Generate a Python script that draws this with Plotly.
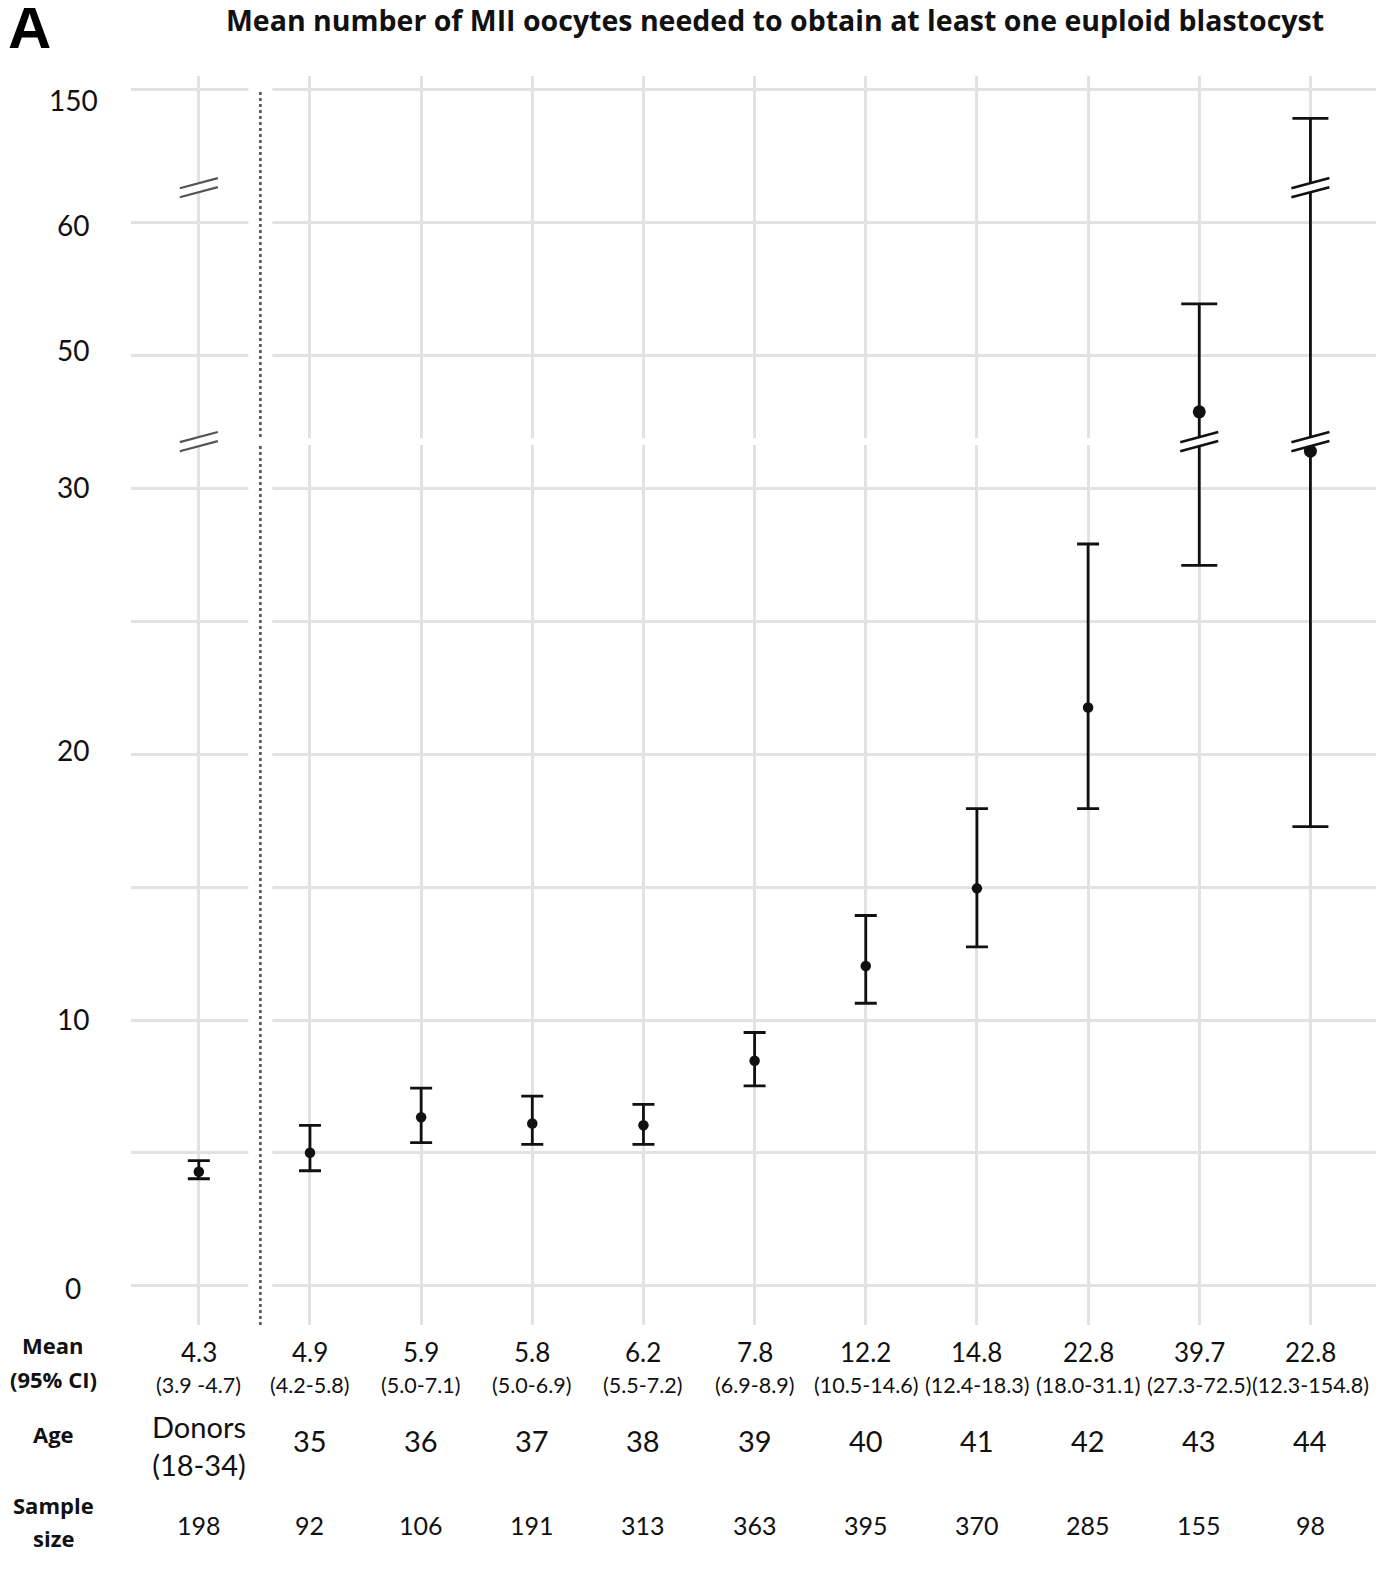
import plotly.graph_objects as go

# ---------------- data ----------------
age_labels = ["Donors<br>(18-34)", "35", "36", "37", "38", "39", "40", "41", "42", "43", "44"]
mean_text = ["4.3", "4.9", "5.9", "5.8", "6.2", "7.8", "12.2", "14.8", "22.8", "39.7", "22.8"]
ci_text = ["(3.9 -4.7)", "(4.2-5.8)", "(5.0-7.1)", "(5.0-6.9)", "(5.5-7.2)", "(6.9-8.9)",
           "(10.5-14.6)", "(12.4-18.3)", "(18.0-31.1)", "(27.3-72.5)", "(12.3-154.8)"]
sample_size = [198, 92, 106, 191, 313, 363, 395, 370, 285, 155, 98]

# positions on the (broken) y scale as drawn in the picture
mean_pos = [4.29, 5.01, 6.34, 6.11, 6.04, 8.47, 12.03, 14.95, 21.75, 32.87, 31.39]
low_pos = [4.03, 4.33, 5.39, 5.32, 5.32, 7.52, 10.63, 12.75, 17.95, 27.10, 17.27]
high_pos = [4.71, 6.04, 7.44, 7.14, 6.83, 9.53, 13.93, 17.95, 27.90, 36.93, 43.91]

ytick_pos = [0, 5, 10, 15, 20, 25, 30, 35, 40, 45]
ytick_text = ["0", "", "10", "", "20", "", "30", "50", "60", "150"]
break_pos = [31.75, 41.3]
separator_x = 0.554

# styling: vertical nudge (px, downward) of each y label as placed in the original
ytick_label_dy = [2, 0, -1, 0, -4, 0, -1, -5, 3, 11]
row_labels = [("Mean", 1345), ("(95% CI)", 1379), ("Age", 1434), ("Sample", 1505), ("size", 1538)]

# ---------------- geometry ----------------
OFF = 8                      # page body margin of the html page
W, H = 1400 - OFF, 1584 - OFF
L, R, T, B = 131 - OFF, 24, 76 - OFF, 259
plot_h = H - T - B
plot_w = W - L - R
XR = [-0.61, 10.59]
YR = [-1.47, 45.5]
FONT = "Lato"
BOLD = "Open Sans"
INK = "#111111"
GRID = "#e2e2e2"


def py(ypx):
    return (H - B - (ypx - OFF)) / plot_h


def px(xpx):
    return (xpx - OFF - L) / plot_w


x = list(range(len(age_labels)))
fig = go.Figure()

groups = [(list(range(0, 9)), 11, 10.5), ([9, 10], 18, 13)]
for idx, capw, msize in groups:
    fig.add_trace(go.Scatter(
        x=[x[i] for i in idx],
        y=[mean_pos[i] for i in idx],
        mode="markers",
        marker=dict(color=INK, size=msize),
        error_y=dict(type="data", symmetric=False,
                     array=[high_pos[i] - mean_pos[i] for i in idx],
                     arrayminus=[mean_pos[i] - low_pos[i] for i in idx],
                     color=INK, thickness=2.8, width=capw),
        showlegend=False, hoverinfo="skip"))

shapes = []
shapes.append(dict(type="line", xref="x", yref="y", x0=separator_x, x1=separator_x,
                   y0=YR[0], y1=YR[1], line=dict(color="white", width=24), layer="between"))
shapes.append(dict(type="line", xref="x", yref="y", x0=separator_x, x1=separator_x,
                   y0=YR[0], y1=45.0, line=dict(color="#555555", width=2.6, dash="3px,3px"),
                   layer="between"))
shapes.append(dict(type="rect", xref="x", yref="y", x0=XR[0], x1=XR[1],
                   y0=break_pos[0] - 0.13, y1=break_pos[0] + 0.13,
                   fillcolor="white", line=dict(width=0), layer="between"))


def break_mark(xc, yc, color, lw, dx=0.171, rise=0.19, sep=0.17):
    out = []
    path = (f"M {xc-dx},{yc-sep-rise} L {xc+dx},{yc-sep+rise} "
            f"L {xc+dx},{yc+sep+rise} L {xc-dx},{yc+sep-rise} Z")
    out.append(dict(type="path", xref="x", yref="y", path=path, fillcolor="white",
                    line=dict(width=0), layer="above"))
    for s in (sep, -sep):
        out.append(dict(type="line", xref="x", yref="y", x0=xc - dx, y0=yc + s - rise,
                        x1=xc + dx, y1=yc + s + rise, line=dict(color=color, width=lw),
                        layer="above"))
    return out


for b in break_pos:
    shapes += break_mark(0, b, "#555555", 2.2)
for i in x:
    for b in break_pos:
        if low_pos[i] < b < high_pos[i]:
            shapes += break_mark(i, b, INK, 2.6)

ann = []
for v, t, dy in zip(ytick_pos, ytick_text, ytick_label_dy):
    if t:
        ann.append(dict(xref="paper", yref="y", x=px(73), y=v, yshift=-dy, text=t,
                        showarrow=False, xanchor="center", yanchor="middle",
                        font=dict(family=FONT, size=28, color=INK)))
for i in x:
    ann.append(dict(xref="x", yref="paper", x=i, y=py(1352), text=mean_text[i], showarrow=False,
                    xanchor="center", yanchor="middle", font=dict(family=FONT, size=26, color=INK)))
    ann.append(dict(xref="x", yref="paper", x=i, y=py(1385), text=ci_text[i], showarrow=False,
                    xanchor="center", yanchor="middle", font=dict(family=FONT, size=21.5, color=INK)))
    ann.append(dict(xref="x", yref="paper", x=i, y=py(1445 if i == 0 else 1440), text=age_labels[i],
                    showarrow=False, xanchor="center", yanchor="middle",
                    font=dict(family=FONT, size=29, color=INK)))
    ann.append(dict(xref="x", yref="paper", x=i, y=py(1525), text=str(sample_size[i]),
                    showarrow=False, xanchor="center", yanchor="middle",
                    font=dict(family=FONT, size=25, color=INK)))
for t, ypx in row_labels:
    ann.append(dict(xref="paper", yref="paper", x=px(53), y=py(ypx), text=f"<b>{t}</b>",
                    showarrow=False, xanchor="center", yanchor="middle",
                    font=dict(family=BOLD, size=22, color=INK)))
ann.append(dict(xref="paper", yref="paper", x=px(775), y=py(20),
                text="<b>Mean number of MII oocytes needed to obtain at least one euploid blastocyst</b>",
                showarrow=False, xanchor="center", yanchor="middle",
                font=dict(family=BOLD, size=28.5, color=INK)))
ann.append(dict(xref="paper", yref="paper", x=px(29), y=py(28), text="<b>A</b>",
                showarrow=False, xanchor="center", yanchor="middle",
                font=dict(family="Liberation Sans", size=60, color="#000000")))

fig.update_layout(
    width=W, height=H,
    margin=dict(l=L, r=R, t=T, b=B),
    paper_bgcolor="white", plot_bgcolor="white",
    xaxis=dict(range=XR, tickvals=x, showticklabels=False, showgrid=True,
               gridcolor=GRID, gridwidth=2.5, zeroline=False, showline=False, ticks=""),
    yaxis=dict(range=YR, tickvals=ytick_pos, showticklabels=False, showgrid=True,
               gridcolor=GRID, gridwidth=2.5, zeroline=False, showline=False, ticks=""),
    shapes=shapes, annotations=ann,
)

fig.write_html("out.html")
